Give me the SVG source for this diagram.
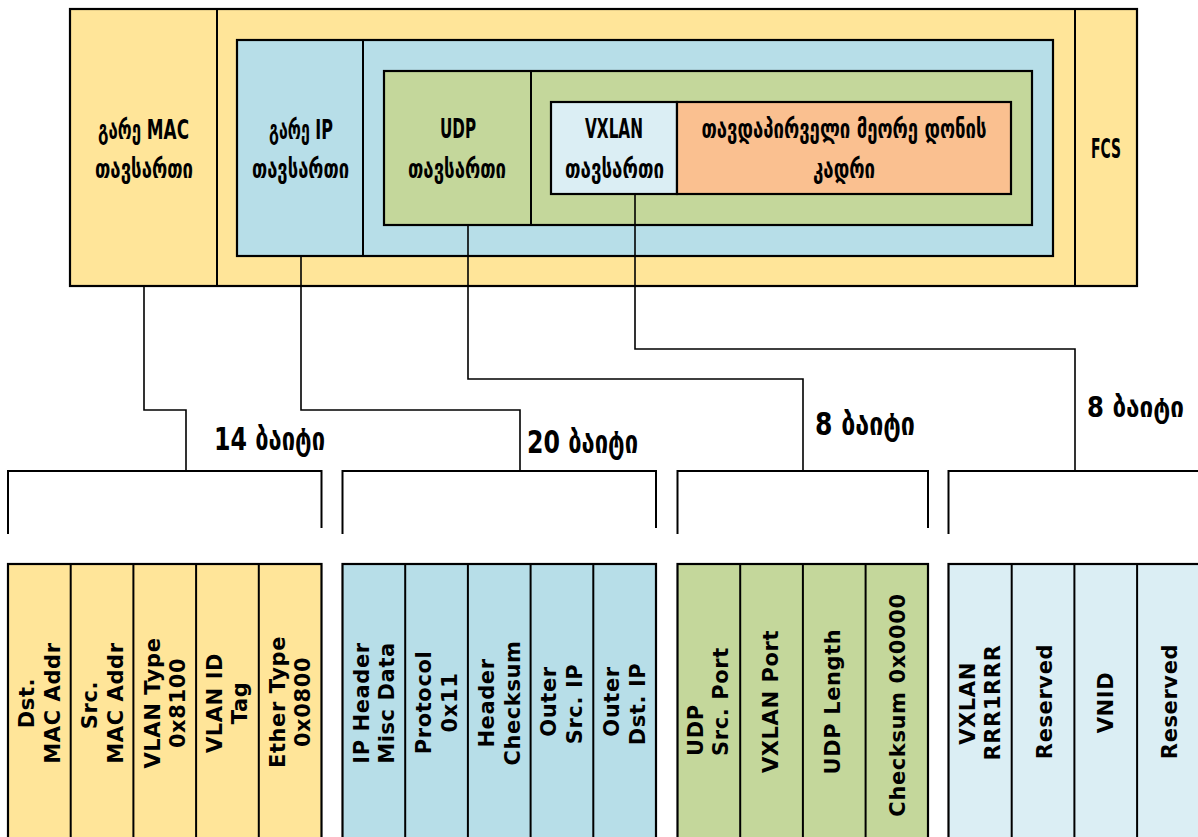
<svg xmlns="http://www.w3.org/2000/svg" width="1198" height="837" viewBox="0 0 1198 837">
<defs>
<style>
.box{stroke:#000;stroke-width:2.2}
.div{stroke:#000;stroke-width:2;fill:none}
.yel{fill:#FFE599}
.blu{fill:#B7DEE8}
.grn{fill:#C4D79B}
.pal{fill:#DBEEF4}
.org{fill:#FAC090}
.hdr{font-family:"DejaVu Sans Condensed","DejaVu Sans",sans-serif;font-weight:bold;font-size:27px;fill:#000;text-anchor:middle}
.lbl{font-family:"DejaVu Sans Condensed","DejaVu Sans",sans-serif;font-weight:bold;font-size:32px;fill:#000}
.fld{font-family:"DejaVu Sans","Liberation Sans",sans-serif;font-weight:bold;font-size:21px;letter-spacing:0.6px;fill:#000;text-anchor:middle}
.fs{text-anchor:start}
.con{stroke:#000;stroke-width:1.6;fill:none}
.brk{stroke:#000;stroke-width:2;fill:none}
</style>
</defs>
<rect width="1198" height="837" fill="#fff"/>

<g id="outer-frame">
<rect class="box yel" x="70" y="9" width="1067" height="277"/>
</g>
<g id="outer-mac-header">
<line class="div" x1="217" y1="9" x2="217" y2="286"/>
<text class="hdr" x="143.5" y="139" textLength="91" lengthAdjust="spacingAndGlyphs">გარე MAC</text>
<text class="hdr" x="144" y="178" textLength="98" lengthAdjust="spacingAndGlyphs">თავსართი</text>
</g>
<g id="fcs">
<line class="div" x1="1075" y1="9" x2="1075" y2="286"/>
<text class="hdr" x="1106" y="158" textLength="30" lengthAdjust="spacingAndGlyphs">FCS</text>
</g>
<g id="outer-ip-header">
<rect class="box blu" x="237" y="40" width="816" height="216"/>
<line class="div" x1="363" y1="40" x2="363" y2="256"/>
<text class="hdr" x="301" y="139" textLength="64" lengthAdjust="spacingAndGlyphs">გარე IP</text>
<text class="hdr" x="300.5" y="178" textLength="97" lengthAdjust="spacingAndGlyphs">თავსართი</text>
</g>
<g id="udp-header">
<rect class="box grn" x="384" y="71" width="648" height="154"/>
<line class="div" x1="531" y1="71" x2="531" y2="225"/>
<text class="hdr" x="458" y="138" textLength="36" lengthAdjust="spacingAndGlyphs">UDP</text>
<text class="hdr" x="457" y="178" textLength="98" lengthAdjust="spacingAndGlyphs">თავსართი</text>
</g>
<g id="vxlan-header">
<rect class="box pal" x="551" y="102" width="126" height="92"/>
<text class="hdr" x="614" y="138" textLength="58" lengthAdjust="spacingAndGlyphs">VXLAN</text>
<text class="hdr" x="614.5" y="178" textLength="99" lengthAdjust="spacingAndGlyphs">თავსართი</text>
</g>
<g id="original-l2-frame">
<rect class="box org" x="677" y="102" width="334" height="92"/>
<text class="hdr" x="844" y="138" textLength="285" lengthAdjust="spacingAndGlyphs">თავდაპირველი მეორე დონის</text>
<text class="hdr" x="844" y="178" textLength="62" lengthAdjust="spacingAndGlyphs">კადრი</text>
</g>

<g id="connectors">
<path class="con" d="M144,287 V410 H186 V471"/>
<path class="con" d="M301,257 V410 H520 V471"/>
<path class="con" d="M468,226 V379 H803 V471"/>
<path class="con" d="M635,195 V349 H1075 V471"/>
<path class="brk" d="M8,534 V471 H321.5 V528"/>
<path class="brk" d="M342.5,534 V471 H656 V528"/>
<path class="brk" d="M677.5,534 V471 H928 V528"/>
<path class="brk" d="M948.5,534 V471 H1200"/>
</g>

<g id="size-labels">
<text class="lbl" x="214" y="450" textLength="111" lengthAdjust="spacingAndGlyphs">14 ბაიტი</text>
<text class="lbl" x="527" y="453" textLength="111" lengthAdjust="spacingAndGlyphs">20 ბაიტი</text>
<text class="lbl" x="815" y="435" textLength="100" lengthAdjust="spacingAndGlyphs">8 ბაიტი</text>
<text class="lbl" x="1087" y="417" textLength="97" lengthAdjust="spacingAndGlyphs" style="font-size:29px">8 ბაიტი</text>
</g>

<g id="mac-fields">
<rect class="box yel" x="8" y="564" width="313.5" height="290"/>
<path class="div" d="M70.7,564 V850 M133.4,564 V850 M196.1,564 V850 M258.8,564 V850"/>
<text class="fld" transform="translate(33.9,703) rotate(-90)">Dst.</text>
<text class="fld" transform="translate(59.9,703) rotate(-90)">MAC Addr</text>
<text class="fld" transform="translate(96.5,705) rotate(-90)">Src.</text>
<text class="fld" transform="translate(122.5,703) rotate(-90)">MAC Addr</text>
<text class="fld" transform="translate(160,703) rotate(-90)">VLAN Type</text>
<text class="fld" transform="translate(185,703) rotate(-90)">0x8100</text>
<text class="fld" transform="translate(222,703) rotate(-90)">VLAN ID</text>
<text class="fld" transform="translate(247,703) rotate(-90)">Tag</text>
<text class="fld" transform="translate(285,702) rotate(-90)">Ether Type</text>
<text class="fld" transform="translate(310,702) rotate(-90)">0x0800</text>
</g>

<g id="ip-fields">
<rect class="box blu" x="342.5" y="564" width="313.5" height="290"/>
<path class="div" d="M405.2,564 V850 M467.9,564 V850 M530.6,564 V850 M593.3,564 V850"/>
<text class="fld" transform="translate(369,703) rotate(-90)">IP Header</text>
<text class="fld" transform="translate(394,703) rotate(-90)">Misc Data</text>
<text class="fld" transform="translate(430.5,702.5) rotate(-90)">Protocol</text>
<text class="fld" transform="translate(456.5,702.5) rotate(-90)">0x11</text>
<text class="fld" transform="translate(493.5,703) rotate(-90)">Header</text>
<text class="fld" transform="translate(519.5,703) rotate(-90)">Checksum</text>
<text class="fld" transform="translate(556,701.5) rotate(-90)">Outer</text>
<text class="fld" transform="translate(582,704) rotate(-90)">Src. IP</text>
<text class="fld" transform="translate(619,701.5) rotate(-90)">Outer</text>
<text class="fld" transform="translate(645,704) rotate(-90)">Dst. IP</text>
</g>

<g id="udp-fields">
<rect class="box grn" x="677.5" y="564" width="250.5" height="290"/>
<path class="div" d="M740.2,564 V850 M802.9,564 V850 M865.6,564 V850"/>
<text class="fld fs" transform="translate(703,756) rotate(-90)">UDP</text>
<text class="fld fs" transform="translate(728,756) rotate(-90)">Src.  Port</text>
<text class="fld" transform="translate(778,701.5) rotate(-90)">VXLAN Port</text>
<text class="fld" transform="translate(839.5,701.5) rotate(-90)">UDP Length</text>
<text class="fld" transform="translate(904.5,705) rotate(-90)">Checksum 0x0000</text>
</g>

<g id="vxlan-fields">
<rect class="box pal" x="948.5" y="564" width="260" height="290"/>
<path class="div" d="M1011.7,564 V850 M1074.4,564 V850 M1137.1,564 V850"/>
<text class="fld" transform="translate(975,703.5) rotate(-90)">VXLAN</text>
<text class="fld" transform="translate(1000,702.5) rotate(-90)">RRR1RRR</text>
<text class="fld" transform="translate(1051.5,701.5) rotate(-90)">Reserved</text>
<text class="fld" transform="translate(1113,702.5) rotate(-90)">VNID</text>
<text class="fld" transform="translate(1176.5,701.5) rotate(-90)">Reserved</text>
</g>
</svg>
